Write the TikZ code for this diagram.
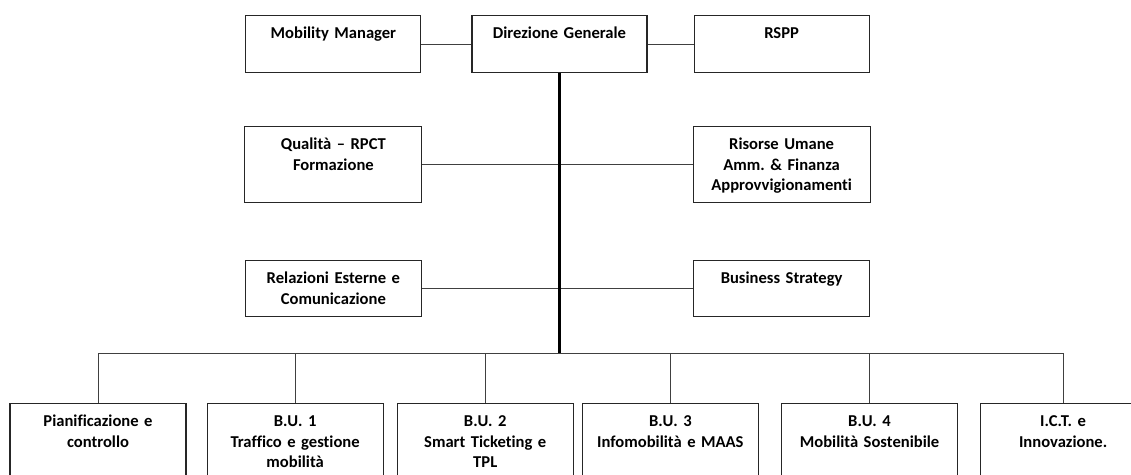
\documentclass[tikz,border=0pt]{standalone}
\usepackage{fontspec}
\setmainfont{Carlito}[Ligatures=NoCommon]
\usetikzlibrary{positioning}
\frenchspacing

\begin{document}
\begin{tikzpicture}[
  font=\fontsize{11.8}{14.6}\selectfont\bfseries,
  node distance=1cm,
  box/.style={draw=black!85, line width=0.8pt, inner sep=0pt, text width=4.375cm, align=center, text height=0.575cm},
  head/.style={box, text depth=0.85cm},
  staff/.style={box, text width=4.425cm, text depth=1.325cm},
  side/.style={box, text width=4.4cm, text depth=0.825cm},
  unit/.style={box, text width=4.4cm, text depth=1.675cm},
  link/.style={draw=black!75, line width=0.6pt},
  trunk/.style={draw=black, line width=2.1pt}
]
\useasboundingbox (0,0) rectangle (28.275,-11.85);

% ------------------------------------------------------------
% Top: Direzione Generale with its two staff offices
% ------------------------------------------------------------
\node[head, anchor=north] (dg) at (13.9875,-0.375) {Direzione Generale};
\node[head, left=1.25cm of dg]  (mm)   {Mobility Manager};
\node[head, right=1.15cm of dg] (rspp) {RSPP};

% ------------------------------------------------------------
% Staff functions on both sides of the trunk
% ------------------------------------------------------------
\node[staff, below=1.325cm of mm]   (qual) {Qualità – RPCT\\Formazione};
\node[staff, below=1.325cm of rspp] (ris)  {Risorse Umane\\Amm. \& Finanza\\Approvvigionamenti};
\node[side, below=1.425cm of qual]  (rel)  {Relazioni Esterne e\\Comunicazione};
\node[side, below=1.425cm of ris]   (bs)   {Business Strategy};

% ------------------------------------------------------------
% Bottom row: business units
% ------------------------------------------------------------
\node[unit, anchor=north] (pc) at (2.45,-10.075) {Pianificazione e\\controllo};
\node[unit, right=0.5cm of pc]    (bu1) {B.U. 1\\Traffico e gestione\\mobilità};
\node[unit, right=0.325cm of bu1] (bu2) {B.U. 2\\Smart Ticketing e\\TPL};
\node[unit, right=0.2cm of bu2]   (bu3) {B.U. 3\\Infomobilità e MAAS};
\node[unit, right=0.55cm of bu3]  (bu4) {B.U. 4\\Mobilità Sostenibile};
\node[unit, text width=4.125cm, right=0.55cm of bu4] (ict) {I.C.T. e\\Innovazione.};

\path (dg.south |- 0,-8.825) coordinate (bus);

% side links
\draw[link] (mm.east) -- (dg.west);
\draw[link] (dg.east) -- (rspp.west);
\draw[link] (qual.east) -- (ris.west);
\draw[link] (rel.east) -- (bs.west);

% bus down to the units
\draw[link] (bus) -| (pc.north);
\draw[link] (bus) -| (bu1.north);
\draw[link] (bus) -| (bu2.north);
\draw[link] (bus) -| (bu3.north);
\draw[link] (bus) -| (bu4.north);
\draw[link] (bus) -| (ict.north);

% main trunk
\draw[trunk] (dg.south) -- (bus);

\end{tikzpicture}
\end{document}
